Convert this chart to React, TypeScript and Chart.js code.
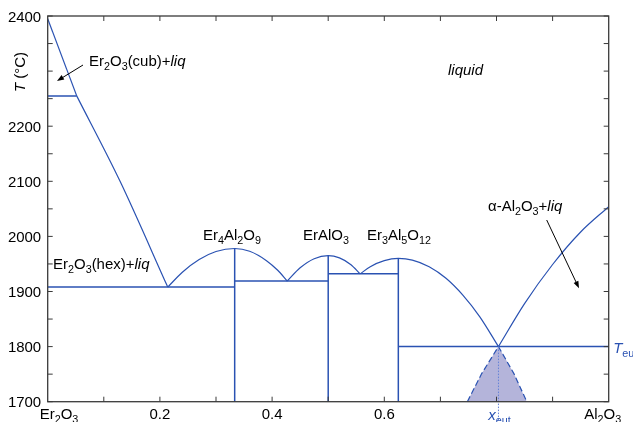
import React, { useEffect, useRef } from 'react';
import { Chart, registerables } from 'chart.js';

Chart.register(...registerables);

type Pt = { x: number; y: number };
type Seg = { t: string; sub?: boolean; it?: boolean };

// Er2O3–Al2O3 phase diagram: x = mole fraction Al2O3, y = temperature (°C)
const T_MIN = 1700;
const T_MAX = 2400;
// 2300 is left unlabelled: the axis title sits there
const T_TICK_LABELS = [1700, 1800, 1900, 2000, 2100, 2200, 2400];
const X_TICK_LABELS = [0.2, 0.4, 0.6];
const X_EUT = 0.8035;
const T_EUT = 1800;

// liquidus and invariant lines
const liqCub: Pt[] = [{ x: 0, y: 2395 }, { x: 0.0517, y: 2255 }];
const liqHex: Pt[] = [{ x: 0.0517, y: 2255 }, { x: 0.129, y: 2100 }, { x: 0.214, y: 1908 }];
const cubHexLine: Pt[] = [{ x: 0, y: 2255 }, { x: 0.0517, y: 2255 }];
const eut1Line: Pt[] = [{ x: 0, y: 1908 }, { x: 0.3333, y: 1908 }];
const er4Al2O9Line: Pt[] = [{ x: 0.3333, y: 1700 }, { x: 0.3333, y: 1978 }];
const er4Al2O9Dome: Pt[] = [
  { x: 0.214, y: 1908 }, { x: 0.24, y: 1935 }, { x: 0.27, y: 1958 }, { x: 0.3, y: 1972.5 },
  { x: 0.3333, y: 1978 }, { x: 0.36, y: 1973 }, { x: 0.39, y: 1956 }, { x: 0.41, y: 1938.5 },
  { x: 0.427, y: 1919 },
];
const eut2Line: Pt[] = [{ x: 0.3333, y: 1919 }, { x: 0.5, y: 1919 }];
const erAlO3Line: Pt[] = [{ x: 0.5, y: 1700 }, { x: 0.5, y: 1965 }];
const erAlO3Dome: Pt[] = [
  { x: 0.427, y: 1919 }, { x: 0.45, y: 1943 }, { x: 0.475, y: 1959.5 }, { x: 0.5, y: 1965 },
  { x: 0.52, y: 1961 }, { x: 0.54, y: 1949 }, { x: 0.557, y: 1932 },
];
const eut3Line: Pt[] = [{ x: 0.5, y: 1932 }, { x: 0.625, y: 1932 }];
const er3Al5O12Line: Pt[] = [{ x: 0.625, y: 1700 }, { x: 0.625, y: 1960 }];
const er3Al5O12Dome: Pt[] = [
  { x: 0.557, y: 1932 }, { x: 0.575, y: 1945 }, { x: 0.6, y: 1956 }, { x: 0.625, y: 1960 },
  { x: 0.65, y: 1957 }, { x: 0.68, y: 1945 }, { x: 0.71, y: 1924 }, { x: 0.74, y: 1893.5 },
  { x: 0.77, y: 1854.5 }, { x: 0.8035, y: 1800 },
];
const eutLine: Pt[] = [{ x: 0.625, y: 1800 }, { x: 1, y: 1800 }];
const liqAl2O3: Pt[] = [
  { x: 0.8035, y: 1800 }, { x: 0.85, y: 1878 }, { x: 0.9, y: 1949 }, { x: 0.95, y: 2008 },
  { x: 1, y: 2054 },
];
const coupledZone: Pt[] = [
  { x: 0.748, y: 1700 }, { x: 0.7736, y: 1751 }, { x: 0.8035, y: 1800 }, { x: 0.831, y: 1751 },
  { x: 0.854, y: 1700 },
];
const xEutMarker: Pt[] = [{ x: 0.8035, y: 1800 }, { x: 0.8035, y: 1666 }];

const BLUE = 'rgb(42, 82, 178)';
const FILL = 'rgb(180, 180, 218)';
const DOT_BLUE = 'rgb(100, 130, 215)';
const FONT = '"Liberation Sans", Arial, Helvetica, sans-serif';
const STRETCH = 1.07;

function fontOf(size: number, it?: boolean) {
  return `${it ? 'italic ' : ''}${size}px ${FONT}`;
}

function drawRich(
  ctx: CanvasRenderingContext2D,
  segs: Seg[],
  x: number,
  y: number,
  align: 'left' | 'center' | 'right',
  color = '#000',
  size = 14,
) {
  const subSize = size * 0.72;
  let total = 0;
  const widths = segs.map((s) => {
    ctx.font = fontOf(s.sub ? subSize : size, s.it);
    const w = ctx.measureText(s.t).width;
    total += w;
    return w;
  });
  const full = total * STRETCH;
  const start = align === 'left' ? x : align === 'center' ? x - full / 2 : x - full;
  ctx.save();
  ctx.translate(start, y);
  ctx.scale(STRETCH, 1);
  ctx.fillStyle = color;
  ctx.textBaseline = 'alphabetic';
  ctx.textAlign = 'left';
  let cx = 0;
  segs.forEach((s, i) => {
    ctx.font = fontOf(s.sub ? subSize : size, s.it);
    ctx.fillText(s.t, cx, s.sub ? 4 : 0);
    cx += widths[i];
  });
  ctx.restore();
}

function arrow(ctx: CanvasRenderingContext2D, x1: number, y1: number, x2: number, y2: number) {
  const a = Math.atan2(y2 - y1, x2 - x1);
  const len = 7;
  const half = 2.6;
  ctx.save();
  ctx.strokeStyle = '#000';
  ctx.fillStyle = '#000';
  ctx.lineWidth = 1;
  ctx.beginPath();
  ctx.moveTo(x1, y1);
  ctx.lineTo(x2 - Math.cos(a) * len * 0.8, y2 - Math.sin(a) * len * 0.8);
  ctx.stroke();
  ctx.beginPath();
  ctx.moveTo(x2, y2);
  ctx.lineTo(x2 - Math.cos(a) * len - Math.sin(a) * half, y2 - Math.sin(a) * len + Math.cos(a) * half);
  ctx.lineTo(x2 - Math.cos(a) * len + Math.sin(a) * half, y2 - Math.sin(a) * len - Math.cos(a) * half);
  ctx.closePath();
  ctx.fill();
  ctx.restore();
}

const sub = (t: string): Seg => ({ t, sub: true });
const tx = (t: string): Seg => ({ t });
const it = (t: string): Seg => ({ t, it: true });

const framePlugin = {
  id: 'diagramFrame',
  afterDraw(chart: any) {
    const { ctx, chartArea: a, scales } = chart;
    const xs = scales.x;
    const ys = scales.y;
    ctx.save();

    // frame
    ctx.strokeStyle = '#3a3a3a';
    ctx.lineWidth = 1.3;
    ctx.strokeRect(a.left, a.top, a.right - a.left, a.bottom - a.top);

    // inward ticks
    ctx.lineWidth = 1;
    ctx.beginPath();
    for (let t = T_MIN; t <= T_MAX; t += 50) {
      const py = ys.getPixelForValue(t);
      ctx.moveTo(a.left, py);
      ctx.lineTo(a.left + 5, py);
      ctx.moveTo(a.right, py);
      ctx.lineTo(a.right - 5, py);
    }
    for (let i = 1; i < 10; i++) {
      const px = xs.getPixelForValue(i / 10);
      ctx.moveTo(px, a.bottom);
      ctx.lineTo(px, a.bottom - 5);
      ctx.moveTo(px, a.top);
      ctx.lineTo(px, a.top + 5);
    }
    ctx.stroke();

    // temperature tick labels
    T_TICK_LABELS.forEach((t) => {
      drawRich(ctx, [tx(String(t))], a.left - 6.5, ys.getPixelForValue(t) + 5.5, 'right');
    });

    // composition tick labels
    const baseY = a.bottom + 17.5;
    drawRich(ctx, [tx('Er'), sub('2'), tx('O'), sub('3')], a.left - 8, baseY, 'left');
    X_TICK_LABELS.forEach((v) => {
      drawRich(ctx, [tx(v.toFixed(1))], xs.getPixelForValue(v), baseY, 'center');
    });
    drawRich(ctx, [it('x'), sub('eut')], xs.getPixelForValue(X_EUT) + 1, baseY + 1, 'center', BLUE);
    drawRich(ctx, [tx('Al'), sub('2'), tx('O'), sub('3')], a.right - 6, baseY, 'center');

    // temperature axis title
    ctx.save();
    ctx.translate(20, 72);
    ctx.rotate(-Math.PI / 2);
    drawRich(ctx, [it('T'), tx(' (°C)')], 0, 5, 'center');
    ctx.restore();

    // eutectic temperature label
    drawRich(ctx, [it('T'), sub('eut')], a.right + 4.5, ys.getPixelForValue(T_EUT) + 6, 'left', BLUE);

    // phase-field labels
    drawRich(ctx, [tx('Er'), sub('2'), tx('O'), sub('3'), tx('(cub)+'), it('liq')], 89, 66, 'left');
    drawRich(ctx, [it('liquid')], 448, 75, 'left');
    drawRich(ctx, [tx('Er'), sub('2'), tx('O'), sub('3'), tx('(hex)+'), it('liq')], 53, 268.5, 'left');
    drawRich(ctx, [tx('Er'), sub('4'), tx('Al'), sub('2'), tx('O'), sub('9')], 232, 240, 'center');
    drawRich(ctx, [tx('ErAlO'), sub('3')], 326, 240, 'center');
    drawRich(ctx, [tx('Er'), sub('3'), tx('Al'), sub('5'), tx('O'), sub('12')], 399, 240, 'center');
    drawRich(ctx, [tx('α-Al'), sub('2'), tx('O'), sub('3'), tx('+'), it('liq')], 488, 211, 'left');

    // pointers
    arrow(ctx, 83, 65, 57, 81);
    arrow(ctx, 546.7, 220, 579, 288.3);

    ctx.restore();
  },
};

function line(data: Pt[], extra: Record<string, unknown> = {}) {
  return {
    data,
    borderColor: BLUE,
    borderWidth: 1.2,
    pointRadius: 0,
    pointHoverRadius: 0,
    fill: false,
    tension: 0,
    ...extra,
  };
}

export default function App() {
  const ref = useRef<HTMLCanvasElement | null>(null);

  useEffect(() => {
    document.body.style.margin = '0';
    if (!ref.current) return;
    const chart = new Chart(ref.current, {
      type: 'line',
      data: {
        datasets: [
          line(xEutMarker, { borderColor: DOT_BLUE, borderDash: [1.5, 1.5], borderWidth: 1, clip: false }),
          line(liqCub),
          line(liqHex, { cubicInterpolationMode: 'monotone' }),
          line(cubHexLine, { borderWidth: 1.5 }),
          line(eut1Line, { borderWidth: 1.5 }),
          line(er4Al2O9Line, { borderWidth: 1.5 }),
          line(er4Al2O9Dome, { cubicInterpolationMode: 'monotone' }),
          line(eut2Line, { borderWidth: 1.5 }),
          line(erAlO3Line, { borderWidth: 1.5 }),
          line(erAlO3Dome, { cubicInterpolationMode: 'monotone' }),
          line(eut3Line, { borderWidth: 1.5 }),
          line(er3Al5O12Line, { borderWidth: 1.5 }),
          line(er3Al5O12Dome, { cubicInterpolationMode: 'monotone' }),
          line(eutLine, { borderWidth: 1.5 }),
          line(liqAl2O3, { cubicInterpolationMode: 'monotone' }),
          line(coupledZone, {
            borderDash: [6, 3],
            borderWidth: 1.2,
            backgroundColor: FILL,
            fill: { target: { value: T_MIN } },
          }),
        ],
      },
      options: {
        animation: false,
        responsive: false,
        parsing: false,
        normalized: true,
        layout: { padding: { left: 47.7, top: 16, right: 24.3, bottom: 20.3 } },
        plugins: { legend: { display: false }, tooltip: { enabled: false } },
        events: [],
        scales: {
          x: { type: 'linear', min: 0, max: 1, display: false },
          y: { type: 'linear', min: T_MIN, max: T_MAX, display: false },
        },
      } as any,
      plugins: [framePlugin],
    });
    return () => chart.destroy();
  }, []);

  return (
    <div style={{ width: 633, height: 422, background: '#fff' }}>
      <canvas ref={ref} width={633} height={422} />
    </div>
  );
}
